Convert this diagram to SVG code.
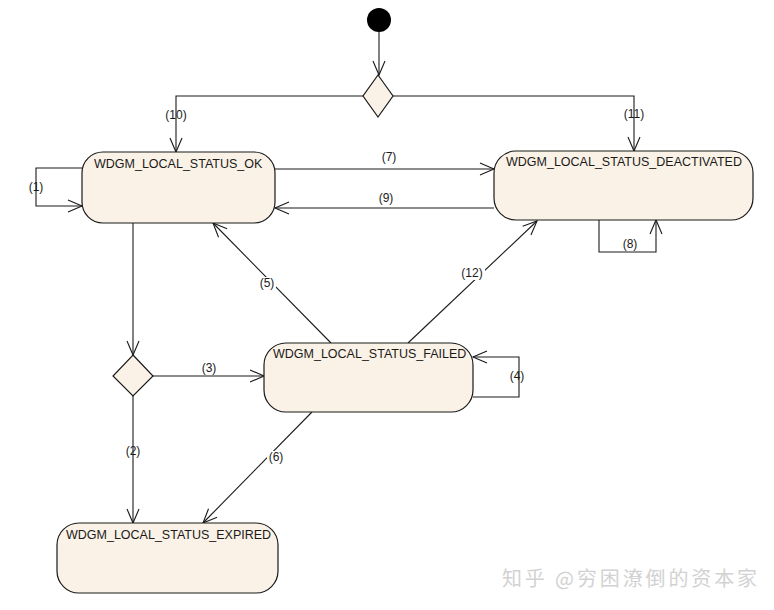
<svg xmlns="http://www.w3.org/2000/svg" width="774" height="610" viewBox="0 0 774 610">
<style>
.state{fill:#FAF2E6;stroke:#1a1a1a;stroke-width:1.2}
.name{font-family:"Liberation Sans",Arial,sans-serif;font-size:12.5px;fill:#1a1a1a}
.lbl{font-family:"Liberation Sans",Arial,sans-serif;font-size:12px;fill:#1a1a1a;text-anchor:middle}
.edge{fill:none;stroke:#1a1a1a;stroke-width:1.1;marker-end:url(#arr)}
.bg{fill:#ffffff}
</style>
<defs>
<marker id="arr" markerUnits="userSpaceOnUse" markerWidth="18" markerHeight="14" viewBox="0 -7 18 14" refX="15" refY="0" orient="auto">
<path d="M1,-6 L15,0 L1,6" fill="none" stroke="#1a1a1a" stroke-width="1.1"/>
</marker>
</defs>
<rect width="774" height="610" fill="#ffffff"/>
<g id="connectors">
<path class="edge" d="M379,32 L379,75"/>
<path class="edge" d="M363,96 L176,96 L176,152"/>
<path class="edge" d="M393,96 L634,96 L634,151"/>
<path class="edge" d="M82,168 L36,168 L36,206 L82,206"/>
<path class="edge" d="M275,169 L494,169"/>
<path class="edge" d="M494,208 L275,208"/>
<path class="edge" d="M599,220 L599,252 L656,252 L656,220"/>
<path class="edge" d="M133,223 L133,355"/>
<path class="edge" d="M153,376 L264,376"/>
<path class="edge" d="M133,396 L133,523"/>
<path class="edge" d="M473,397 L519,397 L519,357 L473,357"/>
<path class="edge" d="M331,343 L213,223"/>
<path class="edge" d="M408,343 L537,221"/>
<path class="edge" d="M312,412 L203,523"/>
<rect class="bg" x="258" y="277" width="18" height="13"/>
<rect class="bg" x="460" y="267" width="25" height="13"/>
<rect class="bg" x="267" y="451" width="18" height="13"/>
<text class="lbl" x="176" y="119">(10)</text>
<text class="lbl" x="634" y="118">(11)</text>
<text class="lbl" x="36" y="191">(1)</text>
<text class="lbl" x="389" y="161">(7)</text>
<text class="lbl" x="386" y="202">(9)</text>
<text class="lbl" x="630" y="248">(8)</text>
<text class="lbl" x="209" y="372">(3)</text>
<text class="lbl" x="517" y="380">(4)</text>
<text class="lbl" x="133" y="455">(2)</text>
<text class="lbl" x="276" y="461">(6)</text>
<text class="lbl" x="267" y="287">(5)</text>
<text class="lbl" x="472" y="277">(12)</text>
</g>
<g id="initial">
<circle cx="379" cy="20" r="12" fill="#000000"/>
</g>
<g id="choice_top">
<path d="M378,75 L393,96 L378,117 L363,96 Z" fill="#FAF2E6" stroke="#1a1a1a" stroke-width="1.2"/>
</g>
<g id="choice_bottom">
<path d="M133,355 L153,376 L133,396 L113,376 Z" fill="#FAF2E6" stroke="#1a1a1a" stroke-width="1.2"/>
</g>
<g id="state_ok">
<rect class="state" x="82" y="152" width="193" height="71" rx="21"/>
<text class="name" x="94" y="168">WDGM_LOCAL_STATUS_OK</text>
</g>
<g id="state_deactivated">
<rect class="state" x="494" y="151" width="259" height="69" rx="22"/>
<text class="name" x="506" y="166">WDGM_LOCAL_STATUS_DEACTIVATED</text>
</g>
<g id="state_failed">
<rect class="state" x="264" y="343" width="209" height="69" rx="22"/>
<text class="name" x="273" y="358">WDGM_LOCAL_STATUS_FAILED</text>
</g>
<g id="state_expired">
<rect class="state" x="57" y="523" width="221" height="70" rx="22"/>
<text class="name" x="66" y="539">WDGM_LOCAL_STATUS_EXPIRED</text>
</g>
<g id="watermark">
<text x="502" y="586" font-family="'Noto Sans CJK SC',sans-serif" font-size="20" fill="#d2d2d2" textLength="255">知乎 @穷困潦倒的资本家</text>
</g>
</svg>
